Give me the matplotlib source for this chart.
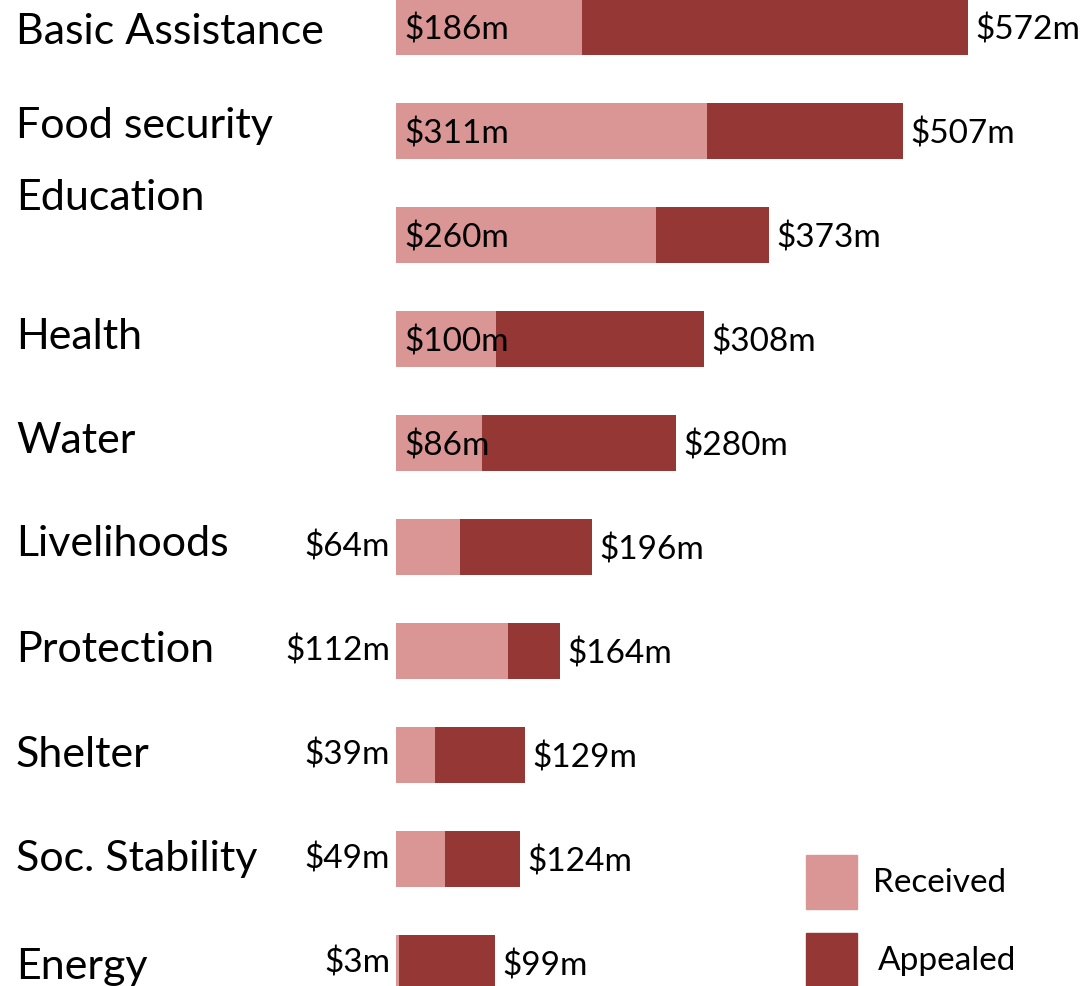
import numpy as np
import matplotlib.pyplot as plt
import matplotlib.transforms as mtrans
from matplotlib.patches import Rectangle

plt.rcParams['font.family'] = ['Lato', 'DejaVu Sans']

categories = ['Basic Assistance', 'Food security', 'Education', 'Health', 'Water',
              'Livelihoods', 'Protection', 'Shelter', 'Soc. Stability', 'Energy']
received = [186, 311, 260, 100, 86, 64, 112, 39, 49, 3]
appealed = [572, 507, 373, 308, 280, 196, 164, 129, 124, 99]

# vertical nudge of category labels, in px (the labels are not all centred on the bars)
label_dy = [5, -5, -37, -2, -2, -3, -1, 0, 0, 4]

c_recv = '#DA9694'
c_appe = '#953735'

W, H = 1089, 986
fig = plt.figure(figsize=(W / 100, H / 100), dpi=100)

# axes: x=0 at 396px, 1px per $m; rows spaced ~104px, first centre at 27px
x0 = 396
ax = fig.add_axes([x0 / W, 0, (W - x0) / W, 1])
ax.set_xlim(0, W - x0)
step = 104.0
top = 27.0
ax.set_ylim(9 + (H - top - 9 * step) / step, -top / step)
ax.axis('off')

y = np.arange(len(categories))
bh = 0.53
ax.barh(y, appealed, height=bh, color=c_appe, left=0)
ax.barh(y, received, height=bh, color=c_recv, left=0)

fs_val = 24
for i in range(len(categories)):
    ax.text(appealed[i] + 7, y[i] + 0.03, f'${appealed[i]}m', fontsize=fs_val,
            va='center', ha='left')
    if i < 5:
        ax.text(8, y[i] + 0.03, f'${received[i]}m', fontsize=fs_val,
                va='center', ha='left')
    else:
        ax.text(-6, y[i], f'${received[i]}m', fontsize=fs_val,
                va='center', ha='right')

trans = mtrans.blended_transform_factory(fig.transFigure, ax.transData)
for i, cat in enumerate(categories):
    ax.text(16 / W, y[i] + label_dy[i] / step, cat, fontsize=31, va='center', ha='left',
            transform=trans, clip_on=False)

# legend
for j, (lab, col) in enumerate([('Received', c_recv), ('Appealed', c_appe)]):
    yb = [855, 933][j]
    fig.patches.append(Rectangle((806 / W, 1 - (yb + 54) / H), 51 / W, 54 / H,
                                 transform=fig.transFigure, color=col))
    fig.text([873, 878][j] / W, 1 - (yb + 28) / H, lab, fontsize=24,
             va='center', ha='left')

fig.savefig('out.png', dpi=100)
